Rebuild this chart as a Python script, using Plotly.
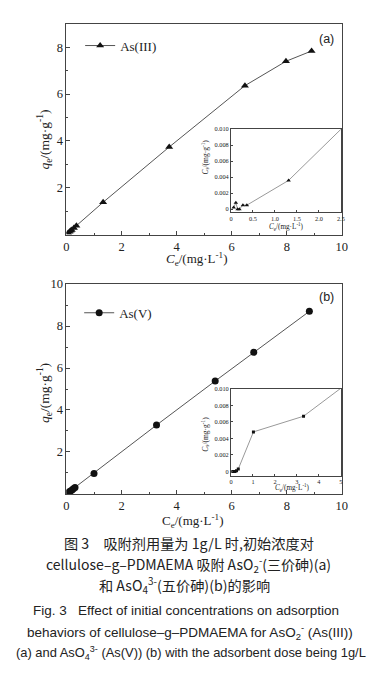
import plotly.graph_objects as go

# ---------------- data ----------------
# Panel (a): As(III)
a_ce = [0.06, 0.11, 0.15, 0.19, 0.27, 0.36, 1.33, 3.73, 6.48, 7.97, 8.9]
a_qe = [0.07, 0.12, 0.16, 0.20, 0.28, 0.38, 1.38, 3.74, 6.36, 7.40, 7.84]
# inset (a): Cs vs Ce
ia_ce = [0.06, 0.11, 0.15, 0.19, 0.27, 0.36, 1.31, 3.73]
ia_cs = [0.0002, 0.0008, 0.0, 0.0, 0.0005, 0.0005, 0.0036, 0.0166]

# Panel (b): As(V)
b_ce = [0.05, 0.10, 0.15, 0.20, 0.25, 0.31, 1.0, 3.27, 5.4, 6.8, 8.82]
b_qe = [0.05, 0.10, 0.14, 0.19, 0.24, 0.30, 0.97, 3.28, 5.38, 6.75, 8.70]
# inset (b)
ib_ce = [0.08, 0.13, 0.18, 0.25, 0.33, 1.02, 3.3, 5.4]
ib_cs = [0.0, 0.0, 0.0, 0.0001, 0.0003, 0.0048, 0.0067, 0.0109]

main_x_ticks = [0, 2, 4, 6, 8, 10]
a_y_ticks = [2, 4, 6, 8]
b_y_ticks = [2, 4, 6, 8, 10]
inset_y_ticks = [0, 0.002, 0.004, 0.006, 0.008, 0.010]
inset_y_labels = ["0", "0.002", "0.004", "0.006", "0.008", "0.010"]
ia_x_ticks = [0, 0.5, 1.0, 1.5, 2.0, 2.5]
ia_x_labels = ["0", "0.5", "1.0", "1.5", "2.0", "2.5"]
ib_x_ticks = [0, 1, 2, 3, 4, 5]

caption = [
    "图 3　吸附剂用量为 1g/L 时,初始浓度对",
    "cellulose–g–PDMAEMA 吸附 AsO<sub>2</sub><sup>-</sup>(三价砷)(a)",
    "和 AsO<sub>4</sub><sup>3-</sup>(五价砷)(b)的影响",
    "Fig. 3   Effect of initial concentrations on adsorption",
    "behaviors of cellulose–g–PDMAEMA for AsO<sub>2</sub><sup>-</sup> (As(III))",
    "(a) and AsO<sub>4</sub><sup>3-</sup> (As(V)) (b) with the adsorbent dose being 1g/L",
]

# ---------------- geometry helpers ----------------
W, H = 384, 676
def px_x(a, b):
    return [a / W, b / W]
def px_y(top, bottom):
    return [1 - bottom / H, 1 - top / H]

SERIF = "Liberation Serif"
SANS = "Liberation Sans"
INK = "#222222"
FRAME = "#444444"

fig = go.Figure()

fig.add_trace(go.Scatter(x=a_ce, y=a_qe, mode="lines+markers", name="As(III)",
                         line=dict(color="#555555", width=1),
                         marker=dict(symbol="triangle-up", size=7, color="#111111"),
                         xaxis="x", yaxis="y", legend="legend"))
fig.add_trace(go.Scatter(x=ia_ce, y=ia_cs, mode="lines+markers", showlegend=False,
                         line=dict(color="#999999", width=1),
                         marker=dict(symbol="triangle-up", size=4, color="#111111"),
                         xaxis="x2", yaxis="y2", cliponaxis=True))
fig.add_trace(go.Scatter(x=b_ce, y=b_qe, mode="lines+markers", name="As(V)",
                         line=dict(color="#555555", width=1),
                         marker=dict(symbol="circle", size=7, color="#111111"),
                         xaxis="x3", yaxis="y3", legend="legend2"))
fig.add_trace(go.Scatter(x=ib_ce, y=ib_cs, mode="lines+markers", showlegend=False,
                         line=dict(color="#999999", width=1),
                         marker=dict(symbol="square", size=3, color="#111111"),
                         xaxis="x4", yaxis="y4", cliponaxis=True))

def main_axis(domain, rng, tickvals, anchor):
    return dict(domain=domain, range=rng, tickmode="array", tickvals=tickvals,
                ticks="inside", ticklen=4, tickcolor=FRAME, showline=True,
                linecolor=FRAME, linewidth=1, mirror=True, showgrid=False,
                zeroline=False, anchor=anchor,
                tickfont=dict(family=SERIF, size=12.5, color=INK),
                minor=dict(ticks="inside", ticklen=2, tickcolor=FRAME,
                           tickmode="linear", tick0=1, dtick=2))

def inset_axis(domain, rng, tickvals, ticktext, anchor):
    return dict(domain=domain, range=rng, tickmode="array", tickvals=tickvals,
                ticktext=ticktext, ticks="inside", ticklen=2, tickcolor=FRAME,
                showline=True, linecolor=FRAME, linewidth=1, mirror=True,
                showgrid=False, zeroline=False, anchor=anchor,
                tickfont=dict(family=SERIF, size=6.3, color=INK))

main_xd = px_x(65, 347)
inset_xd = px_x(233.5, 346)

fig.update_layout(
    width=W, height=H, margin=dict(l=0, r=0, t=0, b=0),
    paper_bgcolor="white", plot_bgcolor="rgba(0,0,0,0)",
    xaxis=main_axis(main_xd, [0, 10], main_x_ticks, "y"),
    yaxis=main_axis(px_y(17, 230), [0, 9], a_y_ticks, "x"),
    xaxis2=inset_axis(inset_xd, [0, 2.5], ia_x_ticks, ia_x_labels, "y2"),
    yaxis2=inset_axis(px_y(123.5, 207.5), [-0.0004, 0.010], inset_y_ticks, inset_y_labels, "x2"),
    xaxis3=main_axis(main_xd, [0, 10], main_x_ticks, "y3"),
    yaxis3=main_axis(px_y(280, 492), [0, 10], b_y_ticks, "x3"),
    xaxis4=inset_axis(inset_xd, [0, 5], ib_x_ticks, [str(v) for v in ib_x_ticks], "y4"),
    yaxis4=inset_axis(px_y(386, 473.5), [-0.0005, 0.010], inset_y_ticks, inset_y_labels, "x4"),
    legend=dict(x=79 / W, y=1 - 39 / H, xanchor="left", yanchor="middle",
                bgcolor="rgba(0,0,0,0)", itemwidth=30,
                font=dict(family=SERIF, size=13, color=INK)),
    legend2=dict(x=78 / W, y=1 - 309 / H, xanchor="left", yanchor="middle",
                 bgcolor="rgba(0,0,0,0)", itemwidth=30,
                 font=dict(family=SERIF, size=13, color=INK)),
)

ann = []
def add_text(text, x, y, size, family=SERIF, angle=0, xanchor="center"):
    ann.append(dict(text=text, x=x / W, y=1 - y / H, xref="paper", yref="paper",
                    showarrow=False, textangle=angle, xanchor=xanchor, yanchor="middle",
                    font=dict(family=family, size=size, color=INK)))

# main axis titles
add_text("<i>q</i><sub>e</sub>/(mg·g<sup>-1</sup>)", 43, 134, 13.5, angle=-90)
add_text("<i>C</i><sub>e</sub>/(mg·L<sup>-1</sup>)", 198, 255, 13)
add_text("<i>q</i><sub>e</sub>/(mg·g<sup>-1</sup>)", 43, 390, 13.5, angle=-90)
add_text("C<sub>e</sub>/(mg·L<sup>-1</sup>)", 194, 519, 13)
# inset titles
add_text("<i>C</i><sub>s</sub>/(mg·g<sup>-1</sup>)", 207, 152, 7.5, angle=-90)
add_text("<i>C</i><sub>e</sub>/(mg·L<sup>-1</sup>)", 290, 222, 7.2)
add_text("<i>C</i><sub>e</sub>/(mg·L<sup>-1</sup>)", 296, 486.5, 7.2)
add_text("<i>C</i><sub>s</sub>/(mg·g<sup>-1</sup>)", 207, 432, 7.5, angle=-90)
# panel labels
add_text("(a)", 331, 32, 12.5, family=SANS)
add_text("(b)", 331, 293, 12.5, family=SANS)

# caption
cap_y = [541.5, 563, 584, 610, 631.5, 652.5]
cap_x = [190, 190, 186, 187, 191, 192]
cap_size = [14.2, 14.0, 14.2, 13.5, 13.5, 12.9]
for i, (t, y, x, s) in enumerate(zip(caption, cap_y, cap_x, cap_size)):
    fam = "Noto Sans CJK SC" if i < 3 else SANS
    add_text(t, x, y, s, family=fam)

fig.update_layout(annotations=ann)
fig.write_html("out.html")
